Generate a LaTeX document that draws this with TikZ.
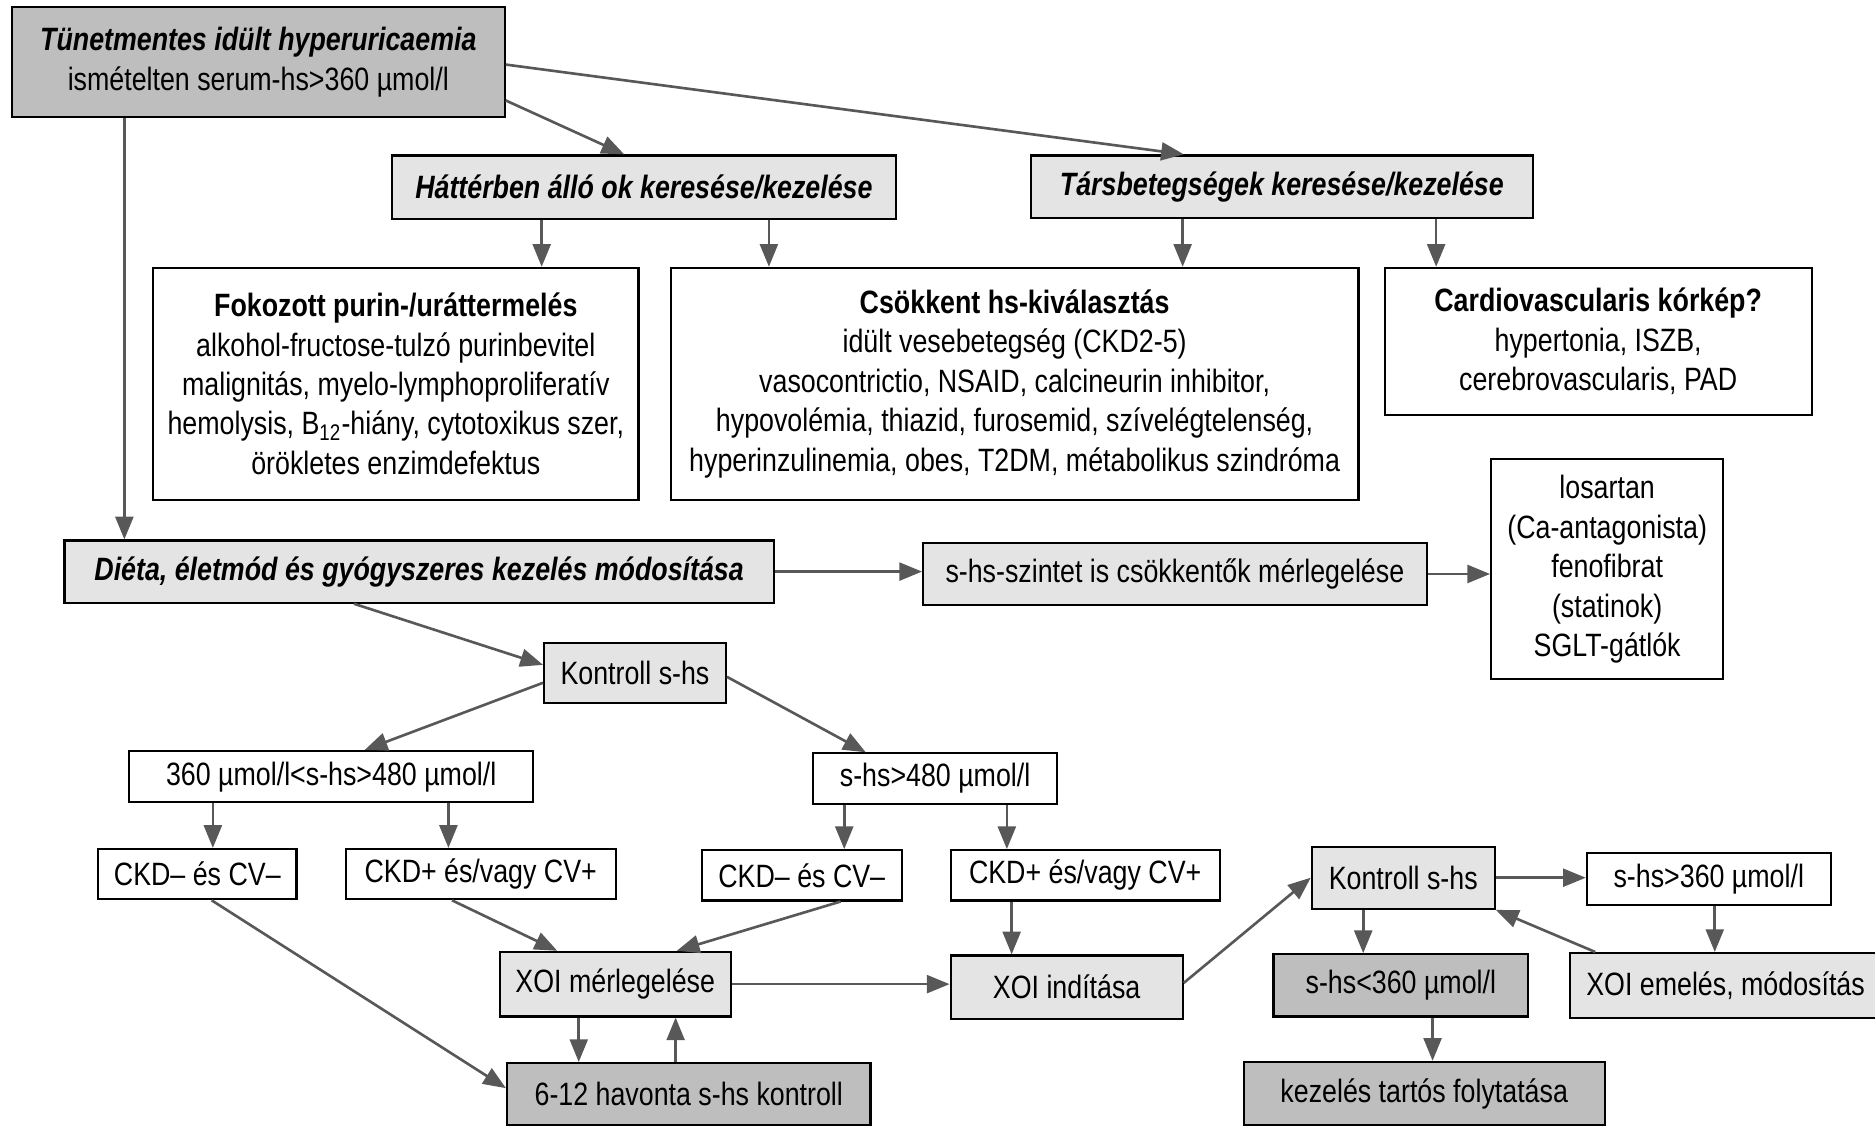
\documentclass[tikz,border=0pt]{standalone}
\usepackage{fontspec}
\setmainfont{Liberation Sans}[FakeStretch=0.83]
\usetikzlibrary{arrows.meta}
\definecolor{boxdark}{HTML}{BEBEBE}
\definecolor{boxlight}{HTML}{E4E4E4}
\definecolor{arrowgray}{HTML}{585858}
\newcommand{\bi}[1]{\textbf{\textit{#1}}}
\begin{document}
\begin{tikzpicture}[x=0.5pt,y=-0.5pt,
  box/.style={draw=black, line width=0.9pt, inner sep=0pt, align=center,
    font=\fontsize{13.5}{16.5}\selectfont},
  dark/.style={box, fill=boxdark},
  light/.style={box, fill=boxlight},
  plain/.style={box, fill=white},
  arr/.style={draw=arrowgray, line width=1.1pt, -{Triangle[length=9.5pt,width=7.5pt]}}]
\useasboundingbox (0,0) rectangle (1568,941);
\node [dark, minimum width=206pt, minimum height=46pt] (tunet) at (216,52) {\bi{Tünetmentes idült hyperuricaemia}\\ismételten serum-hs>360 µmol/l};
\node [light, minimum width=210.5pt, minimum height=26.5pt] (hatter) at (538.5,156.5) {\bi{Háttérben álló ok keresése/kezelése}};
\node [light, minimum width=210pt, minimum height=26pt] (tars) at (1072,156) {\bi{Társbetegségek keresése/kezelése}};
\node [plain, minimum width=203pt, minimum height=97pt] (fokoz) at (331,321) {\textbf{Fokozott purin-/uráttermelés}\\alkohol-fructose-tulzó purinbevitel\\malignitás, myelo-lymphoproliferatív\\hemolysis, B\textsubscript{12}-hiány, cytotoxikus szer,\\örökletes enzimdefektus};
\node [plain, minimum width=287.5pt, minimum height=97pt] (csokk) at (848.5,321) {\textbf{Csökkent hs-kiválasztás}\\idült vesebetegség (CKD2-5)\\vasocontrictio, NSAID, calcineurin inhibitor,\\hypovolémia, thiazid, furosemid, szívelégtelenség,\\hyperinzulinemia, obes, T2DM, métabolikus szindróma};
\node [plain, minimum width=178.5pt, minimum height=61.5pt] (cardio) at (1336.5,285.5) {\textbf{Cardiovascularis kórkép?}\\hypertonia, ISZB,\\cerebrovascularis, PAD};
\node [plain, minimum width=97pt, minimum height=92pt] (losar) at (1344,476) {losartan\\(Ca-antagonista)\\fenofibrat\\(statinok)\\SGLT-gátlók};
\node [light, minimum width=296.5pt, minimum height=26pt] (dieta) at (350.5,478) {\bi{Diéta, életmód és gyógyszeres kezelés módosítása}};
\node [light, minimum width=210.5pt, minimum height=26pt] (szint) at (982.5,480) {s-hs-szintet is csökkentők mérlegelése};
\node [light, minimum width=76pt, minimum height=25pt] (kontr) at (531,563) {Kontroll s-hs};
\node [plain, minimum width=169pt, minimum height=21.5pt] (kozep) at (277,649.5) {360 µmol/l<s-hs>480 µmol/l};
\node [plain, minimum width=102pt, minimum height=21pt] (magas) at (782,651) {s-hs>480 µmol/l};
\node [plain, minimum width=83pt, minimum height=21pt] (negbal) at (165,731) {CKD– és CV–};
\node [plain, minimum width=113pt, minimum height=21pt] (pozbal) at (402,731) {CKD+ és/vagy CV+};
\node [plain, minimum width=83.5pt, minimum height=21pt] (negjobb) at (670.5,732) {CKD– és CV–};
\node [plain, minimum width=112.5pt, minimum height=21pt] (pozjobb) at (907.5,732) {CKD+ és/vagy CV+};
\node [light, minimum width=96.5pt, minimum height=27pt] (xoimerl) at (514.5,823) {XOI mérlegelése};
\node [dark, minimum width=152pt, minimum height=26pt] (havonta) at (576,915) {6-12 havonta s-hs kontroll};
\node [light, minimum width=97pt, minimum height=26.5pt] (xoiind) at (892,825.5) {XOI indítása};
\node [light, minimum width=76.5pt, minimum height=26pt] (kontrjobb) at (1173.5,734) {Kontroll s-hs};
\node [plain, minimum width=102pt, minimum height=22pt] (felett) at (1429,735) {s-hs>360 µmol/l};
\node [dark, minimum width=106.5pt, minimum height=26pt] (alatt) at (1171.5,824) {s-hs<360 µmol/l};
\node [light, minimum width=130pt, minimum height=27pt] (emeles) at (1443,824) {XOI emelés, módosítás};
\node [dark, minimum width=151pt, minimum height=26.5pt] (tartos) at (1191,914.5) {kezelés tartós folytatása};
\draw [arr] (tunet.east |- 0,84) -- (hatter.north -| 522,0);
\draw [arr] (tunet.east |- 0,54) -- (tars.north -| 990,0);
\draw [arr] (tunet.south -| 104,0) -- (dieta.north -| 104,0);
\draw [arr] (hatter.south -| 453,0) -- (fokoz.north -| 453,0);
\draw [arr] (hatter.south -| 643,0) -- (csokk.north -| 643,0);
\draw [arr] (tars.south -| 989,0) -- (csokk.north -| 989,0);
\draw [arr] (tars.south -| 1201,0) -- (cardio.north -| 1201,0);
\draw [arr] (dieta.east) -- (szint.west |- dieta.east);
\draw [arr] (szint.east) -- (losar.west |- szint.east);
\draw [arr] (dieta.south -| 296,0) -- (kontr.west |- 0,556);
\draw [arr] (kontr.west |- 0,571) -- (kozep.north -| 305,0);
\draw [arr] (kontr.east |- 0,566) -- (magas.north -| 724,0);
\draw [arr] (kozep.south -| 178,0) -- (negbal.north -| 178,0);
\draw [arr] (kozep.south -| 375,0) -- (pozbal.north -| 375,0);
\draw [arr] (magas.south -| 706,0) -- (negjobb.north -| 706,0);
\draw [arr] (magas.south -| 842,0) -- (pozjobb.north -| 842,0);
\draw [arr] (negbal.south -| 177,0) -- (havonta.west |- 0,910);
\draw [arr] (pozbal.south -| 378,0) -- (xoimerl.north -| 466,0);
\draw [arr] (negjobb.south -| 703,0) -- (xoimerl.north -| 566,0);
\draw [arr] (xoimerl.south -| 484,0) -- (havonta.north -| 484,0);
\draw [arr] (havonta.north -| 565,0) -- (xoimerl.south -| 565,0);
\draw [arr] (xoimerl.east) -- (xoiind.west |- xoimerl.east);
\draw [arr] (pozjobb.south -| 846,0) -- (xoiind.north -| 846,0);
\draw [arr] (xoiind.east |- 0,822) -- (kontrjobb.west);
\draw [arr] (kontrjobb.east) -- (felett.west |- kontrjobb.east);
\draw [arr] (kontrjobb.south -| 1140,0) -- (alatt.north -| 1140,0);
\draw [arr] (felett.south -| 1434,0) -- (emeles.north -| 1434,0);
\draw [arr] (emeles.north -| 1334,0) -- (kontrjobb.south east);
\draw [arr] (alatt.south -| 1198,0) -- (tartos.north -| 1198,0);
\end{tikzpicture}
\end{document}
